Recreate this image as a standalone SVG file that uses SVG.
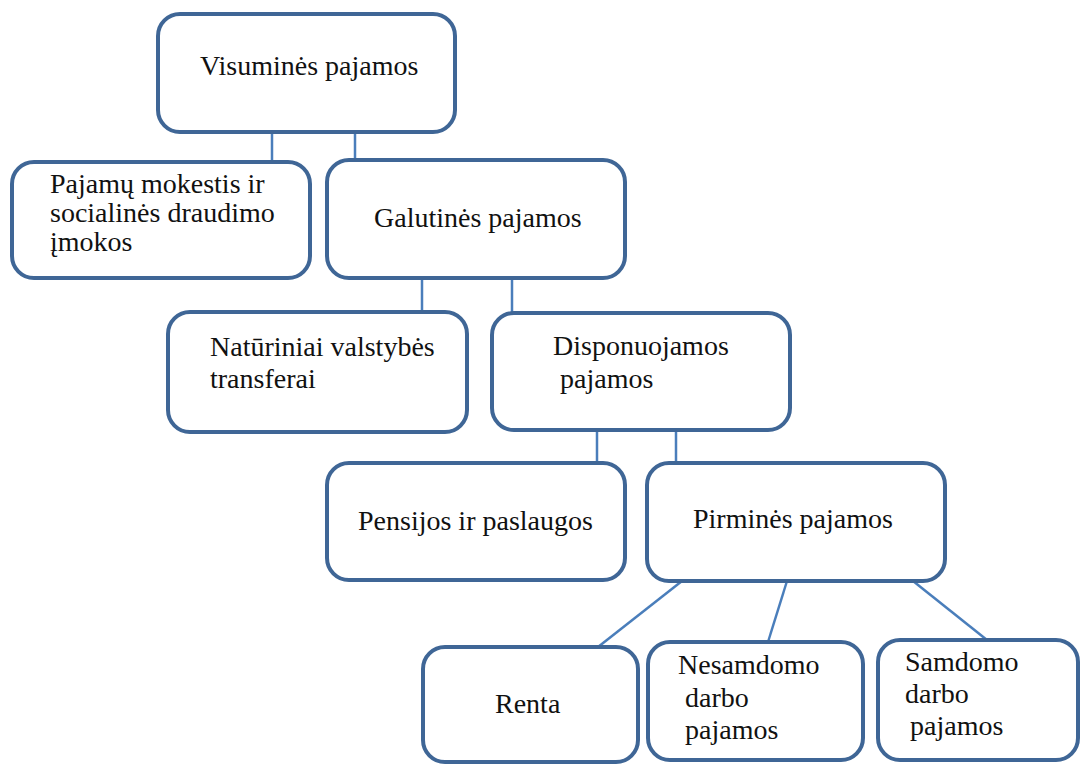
<svg xmlns="http://www.w3.org/2000/svg" width="1083" height="764" viewBox="0 0 1083 764">
<style>
.box{fill:#fff;stroke:#3F6696;stroke-width:4}
.t{font-family:"Liberation Serif","Times New Roman",serif;font-size:28px;fill:#111}
.c{stroke:#4A7EBB;stroke-width:2.5;fill:none}
</style>
<rect width="1083" height="764" fill="#fff"/>
<g id="connectors">
<line class="c" x1="272" y1="132" x2="272" y2="162"/>
<line class="c" x1="355" y1="132" x2="355" y2="160"/>
<line class="c" x1="422" y1="278" x2="422" y2="312"/>
<line class="c" x1="512" y1="278" x2="512" y2="313"/>
<line class="c" x1="597" y1="430" x2="597" y2="463"/>
<line class="c" x1="676" y1="430" x2="676" y2="463"/>
<line class="c" x1="682" y1="581" x2="598" y2="647"/>
<line class="c" x1="787" y1="581" x2="768" y2="642"/>
<line class="c" x1="913" y1="581" x2="987" y2="640"/>
</g>
<g id="visumines">
<rect class="box" x="158" y="14" width="297" height="118" rx="22"/>
<text class="t" x="200" y="75">Visuminės pajamos</text>
</g>
<g id="pajamu-mokestis">
<rect class="box" x="12" y="162" width="298" height="116" rx="22"/>
<text class="t" x="50" y="193">Pajamų mokestis ir</text>
<text class="t" x="50" y="222">socialinės draudimo</text>
<text class="t" x="50" y="251">įmokos</text>
</g>
<g id="galutines">
<rect class="box" x="327" y="160" width="298" height="118" rx="22"/>
<text class="t" x="374" y="227">Galutinės pajamos</text>
</g>
<g id="naturiniai">
<rect class="box" x="168" y="312" width="299" height="120" rx="22"/>
<text class="t" x="210" y="356">Natūriniai valstybės</text>
<text class="t" x="210" y="388">transferai</text>
</g>
<g id="disponuojamos">
<rect class="box" x="492" y="313" width="298" height="117" rx="22"/>
<text class="t" x="553" y="355">Disponuojamos</text>
<text class="t" x="560" y="388">pajamos</text>
</g>
<g id="pensijos">
<rect class="box" x="327" y="463" width="298" height="117" rx="22"/>
<text class="t" x="358" y="530">Pensijos ir paslaugos</text>
</g>
<g id="pirmines">
<rect class="box" x="647" y="463" width="298" height="118" rx="22"/>
<text class="t" x="693" y="528">Pirminės pajamos</text>
</g>
<g id="renta">
<rect class="box" x="423" y="647" width="215" height="115" rx="22"/>
<text class="t" x="495" y="713">Renta</text>
</g>
<g id="nesamdomo">
<rect class="box" x="648" y="642" width="215" height="118" rx="22"/>
<text class="t" x="678" y="674">Nesamdomo</text>
<text class="t" x="685" y="707">darbo</text>
<text class="t" x="685" y="739">pajamos</text>
</g>
<g id="samdomo">
<rect class="box" x="878" y="640" width="200" height="120" rx="22"/>
<text class="t" x="905" y="671">Samdomo</text>
<text class="t" x="905" y="703">darbo</text>
<text class="t" x="910" y="735">pajamos</text>
</g>
</svg>
